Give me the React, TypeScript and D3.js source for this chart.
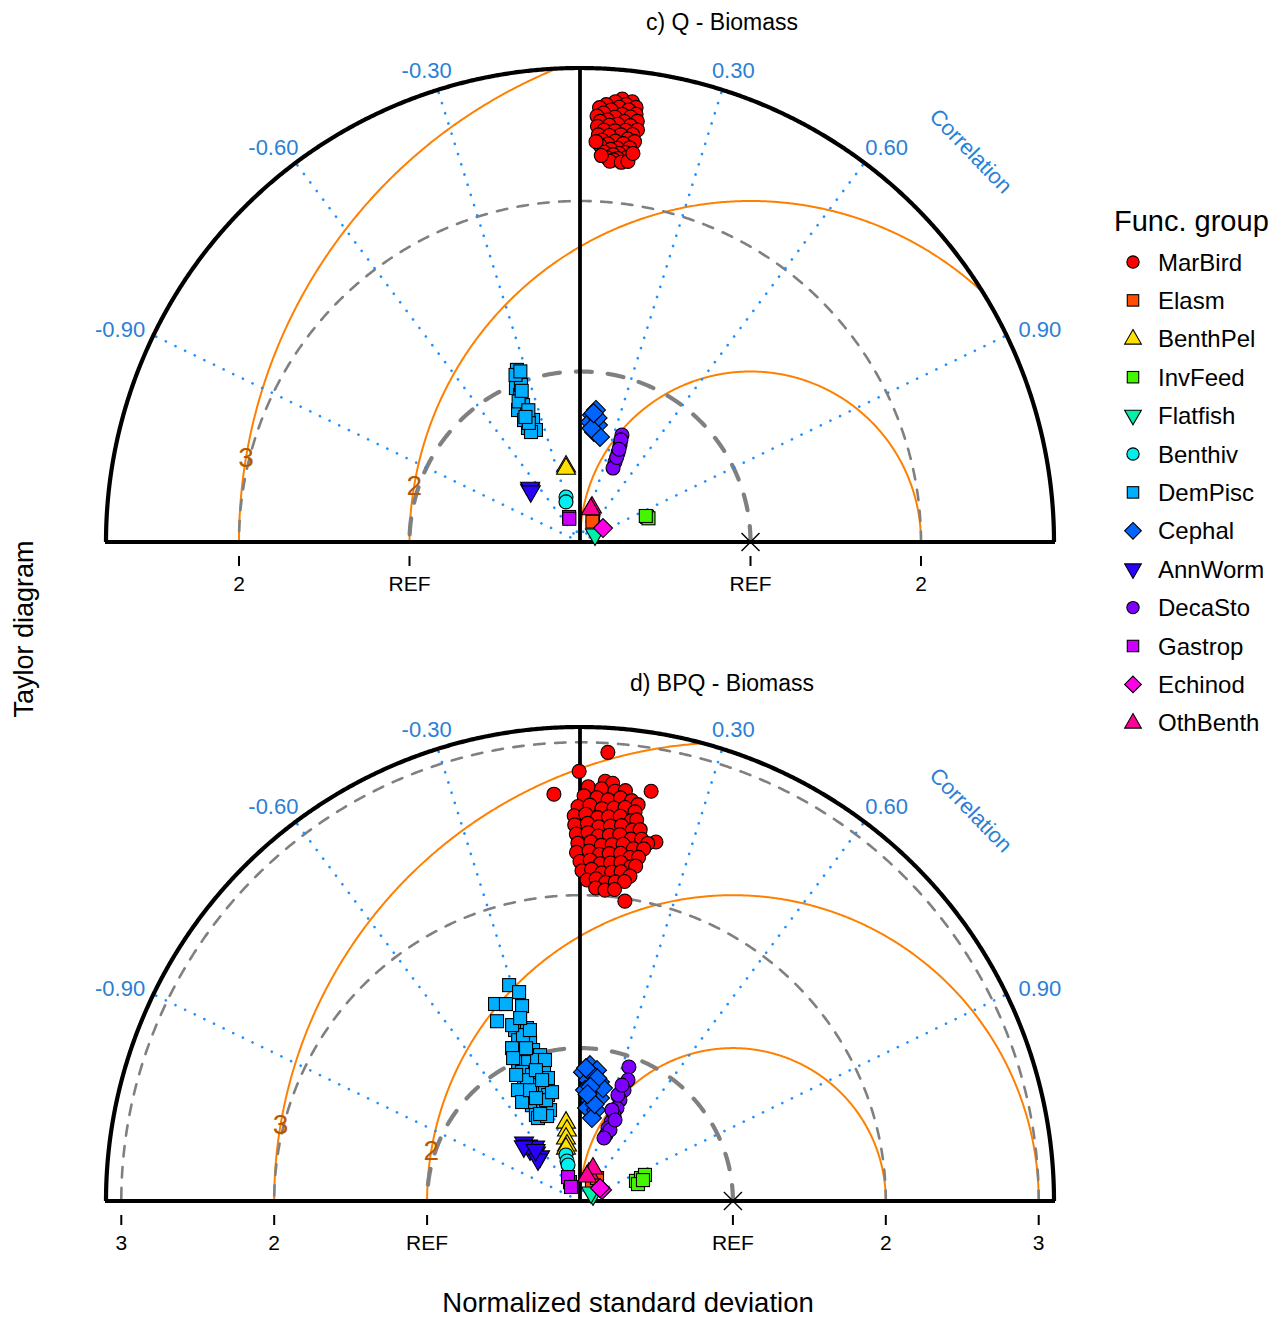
import React from "react";
import * as d3 from "d3";

// ---------- categories / styles ----------
const groupNames = ["MarBird", "Elasm", "BenthPel", "InvFeed", "Flatfish", "Benthiv", "DemPisc", "Cephal", "AnnWorm", "DecaSto", "Gastrop", "Echinod", "OthBenth"];
const groupColors = ["#FF0000", "#FF4E00", "#FFE000", "#44F500", "#00F0A8", "#00F0F0", "#00AEFF", "#0064FF", "#2A00FF", "#8000FF", "#CC00FF", "#FF00E6", "#FF0094"];
const groupShapes = ["circle", "square", "triUp", "square", "triDown", "circle", "square", "diamond", "triDown", "circle", "square", "diamond", "triUp"];

const panelTitles = ["c) Q - Biomass", "d) BPQ - Biomass"];
const panelMaxSd = [2.78, 3.1];
const panelSdTicks = [[-2, -1, 1, 2], [-3, -2, -1, 1, 2, 3]];
const panelSdTickLabels = [["2", "REF", "REF", "2"], ["3", "2", "REF", "REF", "2", "3"]];
const panelSdCircles = [[1, 2], [1, 2, 3]];
const rmsLevels = [1, 2, 3];
const rmsLabelLevels = [2, 3];
const corrTicks = [-0.9, -0.6, -0.3, 0.3, 0.6, 0.9];
const corrTickLabels = ["-0.90", "-0.60", "-0.30", "0.30", "0.60", "0.90"];
const refSd = 1;

// ---------- data: [normalized sd, correlation] ----------
// panel c) Q - Biomass
const qMarBird = [
  [2.61, 0.095], [2.6, 0.118], [2.59, 0.08], [2.58, 0.105], [2.57, 0.06], [2.57, 0.128], [2.56, 0.09], [2.55, 0.045],
  [2.55, 0.112], [2.54, 0.072], [2.53, 0.13], [2.52, 0.098], [2.52, 0.055], [2.51, 0.118], [2.5, 0.04], [2.5, 0.082],
  [2.49, 0.135], [2.48, 0.105], [2.48, 0.065], [2.47, 0.048], [2.46, 0.12], [2.46, 0.09], [2.45, 0.07], [2.44, 0.138],
  [2.44, 0.042], [2.43, 0.11], [2.42, 0.058], [2.42, 0.085], [2.41, 0.128], [2.4, 0.1], [2.39, 0.045], [2.39, 0.072],
  [2.38, 0.118], [2.37, 0.135], [2.36, 0.088], [2.36, 0.055], [2.35, 0.108], [2.34, 0.07], [2.33, 0.125], [2.33, 0.05],
  [2.32, 0.095], [2.31, 0.078], [2.3, 0.115], [2.29, 0.062], [2.29, 0.1], [2.28, 0.085], [2.27, 0.12], [2.26, 0.07],
  [2.26, 0.098], [2.25, 0.088], [2.24, 0.078], [2.24, 0.108], [2.27, 0.055], [2.25, 0.125], [2.3, 0.135], [2.35, 0.04],
];
const qElasm = [[0.15, 0.51], [0.14, 0.52]];
const qBenthPel = [[0.453, -0.181], [0.44, -0.186]];
const qInvFeed = [[0.42, 0.936], [0.425, 0.945], [0.415, 0.93]];
const qFlatfish = [[0.097, 0.906]];
const qBenthiv = [[0.276, -0.297], [0.249, -0.33]];
const qDemPisc = [
  [1.075, -0.344], [1.028, -0.354], [0.978, -0.384], [0.931, -0.378], [0.87, -0.384], [0.855, -0.425], [0.807, -0.385],
  [0.767, -0.359], [0.735, -0.415], [0.706, -0.366], [0.787, -0.417], [0.706, -0.407], [0.984, -0.352], [1.05, -0.36],
  [0.9, -0.4], [0.76, -0.395], [0.83, -0.365], [1.06, -0.33], [0.95, -0.36], [0.8, -0.4],
];
const qCephal = [[0.748, 0.094], [0.694, 0.152], [0.65, 0.126], [0.627, 0.187], [0.706, 0.083], [0.78, 0.12], [0.735, 0.14], [0.67, 0.1], [0.76, 0.105]];
const qAnnWorm = [[0.423, -0.693], [0.43, -0.68], [0.412, -0.7]];
const qDecaSto = [[0.674, 0.365], [0.616, 0.381], [0.568, 0.393], [0.512, 0.401], [0.475, 0.408], [0.645, 0.372], [0.54, 0.398], [0.59, 0.388]];
const qGastrop = [[0.16, -0.4], [0.15, -0.42]];
const qEchinod = [[0.158, 0.855]];
const qOthBenth = [[0.217, 0.324], [0.205, 0.31]];

// panel d) BPQ - Biomass
const bpqMarBird = [
  [2.94, 0.062], [2.81, -0.002], [2.666, -0.064], [2.72, 0.171], [2.4, 0.207], [1.983, 0.148],
  [2.75, 0.06], [2.74, 0.078],
  [2.71, 0.02], [2.7, 0.052], [2.69, 0.085], [2.7, 0.11],
  [2.65, 0.01], [2.64, 0.042], [2.63, 0.07], [2.65, 0.1], [2.64, 0.128], [2.62, 0.145],
  [2.58, -0.005], [2.59, 0.025], [2.57, 0.056], [2.58, 0.086], [2.59, 0.114], [2.57, 0.14],
  [2.52, -0.015], [2.53, 0.015], [2.51, 0.046], [2.52, 0.074], [2.53, 0.104], [2.51, 0.134], [2.52, 0.147],
  [2.46, -0.014], [2.47, 0.02], [2.45, 0.05], [2.46, 0.081], [2.47, 0.11], [2.45, 0.14], [2.46, 0.16],
  [2.4, -0.01], [2.41, 0.022], [2.39, 0.05], [2.4, 0.08], [2.41, 0.108], [2.39, 0.14], [2.4, 0.168], [2.38, 0.186],
  [2.34, -0.006], [2.35, 0.03], [2.33, 0.06], [2.34, 0.09], [2.35, 0.12], [2.33, 0.15], [2.34, 0.178],
  [2.28, -0.01], [2.29, 0.026], [2.27, 0.056], [2.28, 0.084], [2.29, 0.116], [2.27, 0.144], [2.28, 0.168],
  [2.22, 0.0], [2.23, 0.03], [2.21, 0.06], [2.22, 0.09], [2.23, 0.12], [2.21, 0.15], [2.22, 0.164],
  [2.16, 0.006], [2.17, 0.035], [2.15, 0.066], [2.16, 0.096], [2.17, 0.124], [2.15, 0.152],
  [2.1, 0.022], [2.11, 0.05], [2.09, 0.08], [2.1, 0.11], [2.11, 0.138],
  [2.05, 0.05], [2.04, 0.08], [2.05, 0.11],
];
const bpqElasm = [[0.131, 0.597], [0.187, 0.595]];
const bpqBenthPel = [[0.524, -0.175], [0.472, -0.18], [0.422, -0.217], [0.376, -0.226], [0.358, -0.256]];
const bpqInvFeed = [[0.389, 0.941], [0.426, 0.936], [0.458, 0.928], [0.395, 0.96], [0.434, 0.949]];
const bpqFlatfish = [[0.094, 0.907], [0.089, 0.81]];
const bpqBenthiv = [[0.315, -0.292], [0.275, -0.309], [0.248, -0.316]];
const bpqDemPisc = [
  [1.486, -0.312], [1.423, -0.28], [1.403, -0.396], [1.376, -0.352], [1.33, -0.285], [1.295, -0.419],
  [1.196, -0.355], [1.183, -0.293], [1.127, -0.359], [1.089, -0.3], [1.05, -0.373], [1.034, -0.297], [0.989, -0.264],
  [0.994, -0.407], [0.97, -0.35], [0.926, -0.282], [0.925, -0.41], [0.882, -0.356], [0.875, -0.269], [0.842, -0.435],
  [0.813, -0.362], [0.773, -0.296], [0.772, -0.44], [0.722, -0.362], [0.724, -0.289], [0.701, -0.448], [0.655, -0.369],
  [0.632, -0.456], [0.863, -0.401], [0.964, -0.291], [0.626, -0.313], [0.696, -0.319], [1.094, -0.406], [1.147, -0.325],
  [1.233, -0.36], [1.165, -0.281], [1.032, -0.424], [0.95, -0.241], [0.924, -0.452], [0.831, -0.252], [0.831, -0.488],
  [0.735, -0.249], [0.75, -0.505], [0.608, -0.452], [0.596, -0.362], [1.06, -0.333], [0.903, -0.319], [0.795, -0.411],
  [0.829, -0.299], [0.732, -0.393], [1.259, -0.311], [0.626, -0.417],
];
const bpqCephal = [
  [0.891, 0.073], [0.843, 0.023], [0.863, 0.129], [0.793, 0.066], [0.789, 0.166], [0.726, 0.045], [0.719, 0.136],
  [0.663, 0.098], [0.686, 0.191], [0.61, 0.075], [0.604, 0.174], [0.548, 0.142], [0.754, 0.199], [0.828, 0.103],
  [0.87, 0.045], [0.81, 0.14], [0.75, 0.09], [0.64, 0.15], [0.7, 0.07],
];
const bpqAnnWorm = [[0.527, -0.694], [0.495, -0.687], [0.463, -0.678], [0.426, -0.676], [0.389, -0.671], [0.467, -0.7], [0.459, -0.64], [0.384, -0.716], [0.51, -0.72], [0.44, -0.66]];
const bpqDecaSto = [
  [0.933, 0.343], [0.851, 0.369], [0.78, 0.369], [0.71, 0.368], [0.654, 0.37], [0.604, 0.368], [0.555, 0.366],
  [0.511, 0.358], [0.464, 0.366], [0.736, 0.337], [0.631, 0.331], [0.806, 0.341], [0.504, 0.389], [0.577, 0.397], [0.441, 0.356],
];
const bpqGastrop = [[0.14, -0.466], [0.175, -0.447], [0.109, -0.541]];
const bpqEchinod = [[0.161, 0.894], [0.156, 0.839]];
const bpqOthBenth = [[0.192, 0.306], [0.232, 0.366], [0.17, 0.27]];

const panelData = [
  [qMarBird, qElasm, qBenthPel, qInvFeed, qFlatfish, qBenthiv, qDemPisc, qCephal, qAnnWorm, qDecaSto, qGastrop, qEchinod, qOthBenth],
  [bpqMarBird, bpqElasm, bpqBenthPel, bpqInvFeed, bpqFlatfish, bpqBenthiv, bpqDemPisc, bpqCephal, bpqAnnWorm, bpqDecaSto, bpqGastrop, bpqEchinod, bpqOthBenth],
];

// ---------- layout ----------
const W = 1284;
const H = 1318;
const CX = 580;
const BASES = [542, 1201];
const TITLE_Y = [22, 683];
const RADIUS = 474;
const FONT = "'Liberation Sans', Arial, Helvetica, sans-serif";
const CORR_COL = "#2a7fd6";
const DOT_COL = "#1E90FF";
const ORANGE = "#FF8000";
const ORANGE_LAB = "#B35A00";
const GREY = "#808080";

function Marker({ shape, x, y, fill, s = 1 }: { shape: string; x: number; y: number; fill: string; s?: number }) {
  const common = { fill, stroke: "#000", strokeWidth: 1.1, strokeLinejoin: "miter" as const };
  if (shape === "circle") return <circle cx={x} cy={y} r={7 * s} {...common} />;
  if (shape === "square") return <rect x={x - 6.5 * s} y={y - 6.5 * s} width={13 * s} height={13 * s} {...common} />;
  if (shape === "diamond")
    return <path d={`M${x},${y - 9.5 * s}L${x + 9.5 * s},${y}L${x},${y + 9.5 * s}L${x - 9.5 * s},${y}Z`} {...common} />;
  if (shape === "triUp")
    return <path d={`M${x},${y - 10.5 * s}L${x + 9.5 * s},${y + 6 * s}L${x - 9.5 * s},${y + 6 * s}Z`} {...common} />;
  return <path d={`M${x},${y + 10.5 * s}L${x + 9.5 * s},${y - 6 * s}L${x - 9.5 * s},${y - 6 * s}Z`} {...common} />;
}

function Panel({ idx }: { idx: number }) {
  const base = BASES[idx];
  const maxSd = panelMaxSd[idx];
  const r = d3.scaleLinear().domain([0, maxSd]).range([0, RADIUS]);
  const line = d3
    .line<number[]>()
    .x((d) => CX + r(d[0]))
    .y((d) => base - r(d[1]));
  const ts = d3.range(0, Math.PI + 1e-9, 0.004).concat([Math.PI]);
  const circlePts = (rad: number) => ts.map((t) => [rad * Math.cos(t), rad * Math.sin(t)]);

  const rmsPaths = rmsLevels.map((g) => {
    const pts = ts
      .map((t) => [refSd + g * Math.cos(t), g * Math.sin(t)])
      .filter(([x, y]) => x * x + y * y <= maxSd * maxSd + 1e-9);
    return line(pts) || "";
  });

  const labelT = 2.975;
  const corrR = 500;
  const corrLabelR = 553;
  const cLx = CX + corrLabelR * Math.cos(Math.PI / 4);
  const cLy = base - corrLabelR * Math.sin(Math.PI / 4);

  return (
    <g>
      <text x={722} y={TITLE_Y[idx]} textAnchor="middle" dominantBaseline="central" fontSize={23} fontFamily={FONT} fill="#000">
        {panelTitles[idx]}
      </text>

      {/* RMS arcs */}
      {rmsPaths.map((d, i) => (
        <path key={"rms" + i} d={d} fill="none" stroke={ORANGE} strokeWidth={2} />
      ))}

      {/* sd circles */}
      {panelSdCircles[idx].map((s) => (
        <path
          key={"sd" + s}
          d={line(circlePts(s)) || ""}
          fill="none"
          stroke={GREY}
          strokeWidth={s === refSd ? 4.2 : 2.6}
          strokeDasharray={s === refSd ? "16 16" : "10.5 10.5"}
          strokeLinecap="round"
        />
      ))}

      {/* correlation rays */}
      {corrTicks.map((c) => {
        const a = Math.acos(c);
        return (
          <line
            key={"cr" + c}
            x1={CX}
            y1={base}
            x2={CX + RADIUS * Math.cos(a)}
            y2={base - RADIUS * Math.sin(a)}
            stroke={DOT_COL}
            strokeWidth={2.6}
            strokeDasharray="0.1 10.6"
            strokeLinecap="round"
          />
        );
      })}

      {/* RMS labels */}
      {rmsLabelLevels.map((g) => (
        <text
          key={"rl" + g}
          x={CX + r(refSd + g * Math.cos(labelT))}
          y={base - r(g * Math.sin(labelT))}
          textAnchor="middle"
          dominantBaseline="central"
          fontSize={28}
          fontFamily={FONT}
          fill={ORANGE_LAB}
        >
          {g}
        </text>
      ))}

      {/* frame */}
      <path d={line(circlePts(maxSd)) || ""} fill="none" stroke="#000" strokeWidth={4.2} />
      <line x1={CX - RADIUS - 1} y1={base} x2={CX + RADIUS + 1} y2={base} stroke="#000" strokeWidth={4.2} />
      <line x1={CX} y1={base} x2={CX} y2={base - RADIUS} stroke="#000" strokeWidth={3.8} />

      {/* correlation labels */}
      {corrTicks.map((c, i) => {
        const a = Math.acos(c);
        return (
          <text
            key={"cl" + c}
            x={CX + corrR * Math.cos(a) + 11 * c}
            y={base - corrR * Math.sin(a) + 5}
            textAnchor="middle"
            dominantBaseline="central"
            fontSize={22}
            fontFamily={FONT}
            fill={CORR_COL}
          >
            {corrTickLabels[i]}
          </text>
        );
      })}
      <text
        x={cLx}
        y={cLy}
        textAnchor="middle"
        dominantBaseline="central"
        fontSize={22}
        fontFamily={FONT}
        fill={CORR_COL}
        transform={`rotate(46 ${cLx} ${cLy})`}
      >
        Correlation
      </text>

      {/* sd axis ticks */}
      {panelSdTicks[idx].map((v, i) => {
        const x = CX + Math.sign(v) * r(Math.abs(v));
        return (
          <g key={"t" + i}>
            <line x1={x} y1={base + 14} x2={x} y2={base + 24} stroke="#000" strokeWidth={2} />
            <text x={x} y={base + 41} textAnchor="middle" dominantBaseline="central" fontSize={21} fontFamily={FONT} fill="#000">
              {panelSdTickLabels[idx][i]}
            </text>
          </g>
        );
      })}

      {/* points */}
      {panelData[idx].map((pts, g) =>
        pts.map(([sd, c], j) => {
          const a = Math.acos(c);
          return (
            <Marker
              key={g + "-" + j}
              shape={groupShapes[g]}
              x={CX + r(sd) * Math.cos(a)}
              y={base - r(sd) * Math.sin(a)}
              fill={groupColors[g]}
            />
          );
        })
      )}

      {/* reference point */}
      {(() => {
        const x = CX + r(refSd);
        return (
          <g stroke="#000" strokeWidth={1.4}>
            <line x1={x - 9} y1={base - 9} x2={x + 9} y2={base + 9} />
            <line x1={x - 9} y1={base + 9} x2={x + 9} y2={base - 9} />
          </g>
        );
      })()}
    </g>
  );
}

function Legend() {
  const y0 = 262;
  const step = 38.4;
  return (
    <g>
      <text x={1114} y={221} dominantBaseline="central" fontSize={29} fontFamily={FONT} fill="#000">
        Func. group
      </text>
      {groupNames.map((n, i) => (
        <g key={n}>
          <Marker shape={groupShapes[i]} x={1133} y={y0 + i * step} fill={groupColors[i]} s={0.88} />
          <text x={1158} y={y0 + i * step} dominantBaseline="central" fontSize={24} fontFamily={FONT} fill="#000">
            {n}
          </text>
        </g>
      ))}
    </g>
  );
}

export default function App() {
  return (
    <svg
      width={W}
      height={H}
      viewBox={`0 0 ${W} ${H}`}
      style={{ position: "absolute", left: 0, top: 0, background: "#fff" }}
    >
      <rect width={W} height={H} fill="#fff" />
      <Panel idx={0} />
      <Panel idx={1} />
      <Legend />
      <text
        x={24}
        y={629}
        textAnchor="middle"
        dominantBaseline="central"
        fontSize={27}
        fontFamily={FONT}
        fill="#000"
        transform="rotate(-90 24 629)"
      >
        Taylor diagram
      </text>
      <text x={628} y={1302} textAnchor="middle" dominantBaseline="central" fontSize={27.5} fontFamily={FONT} fill="#000">
        Normalized standard deviation
      </text>
    </svg>
  );
}
